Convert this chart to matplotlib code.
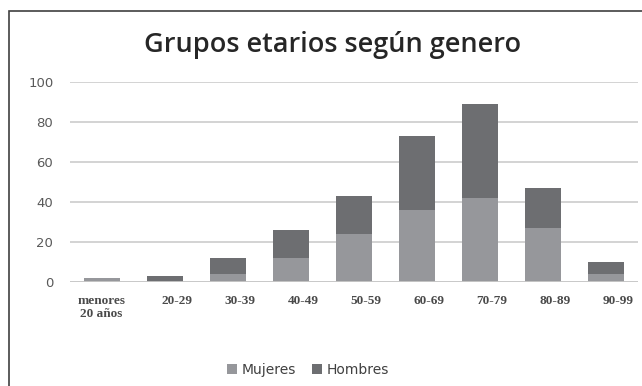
import numpy as np
import matplotlib.pyplot as plt
from matplotlib.patches import Rectangle
from matplotlib.transforms import ScaledTranslation

categorias = ['menores\n20 años', '20-29', '30-39', '40-49', '50-59',
              '60-69', '70-79', '80-89', '90-99']
mujeres = [2, 0, 4, 12, 24, 36, 42, 27, 4]
hombres = [0, 3, 8, 14, 19, 37, 47, 20, 6]

col_muj = '#96979b'
col_hom = '#6d6e71'

W, H = 642, 386
fig = plt.figure(figsize=(W / 100, H / 100), dpi=100)
ax = fig.add_axes([70 / W, 1 - 282 / H, 568 / W, 200 / H])

x = np.arange(len(categorias))
ax.bar(x, mujeres, width=0.57, color=col_muj, label='Mujeres', zorder=3)
ax.bar(x, hombres, width=0.57, bottom=mujeres, color=col_hom,
       label='Hombres', zorder=3)

ax.set_xlim(-0.5, len(categorias) - 0.5)
ax.set_ylim(0, 100)
ax.set_yticks(range(0, 101, 20))
ax.yaxis.grid(True, color='#d0d0d0', linewidth=1.3, zorder=0)
for s in ax.spines.values():
    s.set_visible(False)
ax.axhline(0, color='#c8c8c8', linewidth=1.3, zorder=4)
ax.tick_params(axis='both', length=0)
ax.tick_params(axis='y', pad=12, labelsize=9.5, labelcolor='#595959')
ax.set_xticks(x)
ax.set_xticklabels(categorias, fontfamily='Liberation Serif', fontsize=9.5,
                   fontweight='bold', color='#4a4a4a')
ax.tick_params(axis='x', pad=9)
# en el original las etiquetas (salvo la primera) quedan algo a la derecha
desplaza = ScaledTranslation(12 / 100, 0, fig.dpi_scale_trans)
for lab in ax.get_xticklabels()[1:]:
    lab.set_transform(lab.get_transform() + desplaza)

fig.text(333 / W, 1 - 45 / H, 'Grupos etarios según genero',
         ha='center', va='center', fontsize=19.5, fontfamily='Open Sans',
         fontweight='semibold', color='#262626')

fig.legend(loc='center', bbox_to_anchor=(308 / W, 1 - 370 / H), ncol=2,
           frameon=False, fontsize=10, handlelength=0.7, handleheight=0.7,
           handletextpad=0.3, columnspacing=1.2, labelcolor='#404040')

# marco del gráfico
fig.add_artist(Rectangle((9 / W, -0.1), 1, 1 - 11 / H + 0.1,
                         transform=fig.transFigure, fill=False,
                         edgecolor='#404040', linewidth=1.2))

fig.savefig('out.png', dpi=100, facecolor='white')
